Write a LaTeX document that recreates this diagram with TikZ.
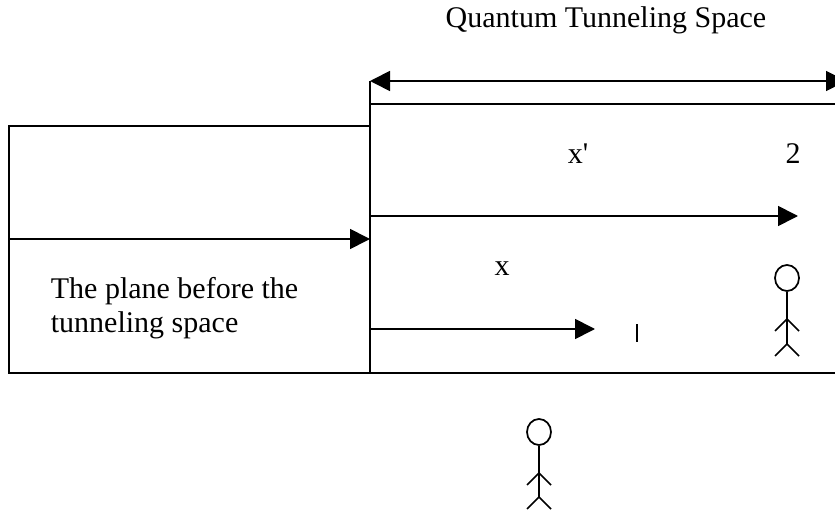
\documentclass[tikz,border=0pt]{standalone}
\usepackage{fontspec}
\setmainfont{Liberation Serif}
\usetikzlibrary{arrows.meta, shapes.geometric}
\begin{document}
\begin{tikzpicture}[
  x=0.75pt, y=-0.75pt,
  line width=1.3pt,
  label/.style={font=\fontsize{22.5}{25.5}\selectfont, inner sep=0pt, anchor=base},
  arrow/.style={-{Triangle[length=15pt, width=15pt]}},
  biarrow/.style={{Triangle[length=15pt, width=15pt]}-{Triangle[length=15pt, width=15pt]}},
  head/.style={draw, ellipse, minimum width=18pt, minimum height=19.5pt, inner sep=0pt}
]
\useasboundingbox (0,0) rectangle (835,513);
\clip (0,0) rectangle (835,513);
% the two planes
\coordinate (planeNW) at (9,126);
\coordinate (planeNE) at (370,126);
\coordinate (planeSW) at (9,373);
\coordinate (planeSE) at (370,373);
\coordinate (wallTop) at (370,81);
\coordinate (roofL) at (370,104);
\coordinate (roofR) at (835,104);
\coordinate (floorR) at (835,373);
\draw (planeSE) -- (planeSW) -- (planeNW) -- (planeNE);
\draw (wallTop) -- (planeSE) -- (floorR);
\draw (roofL) -- (roofR);
% arrows
\coordinate (spanR) at (846,81);
\coordinate (beamStart) at (9,239);
\coordinate (beamEnd) at (370,239);
\coordinate (upperStart) at (370,216);
\coordinate (upperEnd) at (798,216);
\coordinate (lowerStart) at (370,329);
\coordinate (lowerEnd) at (595,329);
\draw[biarrow] (wallTop) -- (spanR);
\draw[arrow] (beamStart) -- (beamEnd);
\draw[arrow] (upperStart) -- (upperEnd);
\draw[arrow] (lowerStart) -- (lowerEnd);
% tick
\coordinate (tickTop) at (637,324);
\coordinate (tickBot) at (637,342);
\draw[line width=0.9pt] (tickTop) -- (tickBot);
% labels
\node[label] (title) at (606,28) {Quantum Tunneling Space};
\node[label] (xprime) at (578,164) {x\textquotesingle};
\node[label] (two) at (793,164) {2};
\node[label] (xlabel) at (502,276) {x};
\node[label, anchor=base west] (planeTop) at (50,298) {The plane before the};
\node[label, anchor=base west] (planeBot) at (50,332) {tunneling space};
% person on the far side
\node[head] (headA) at (787,278) {};
\coordinate (hipA) at (787,344);
\coordinate (neckA) at (787,319);
\coordinate (handAl) at (775,331);
\coordinate (handAr) at (799,331);
\coordinate (footAl) at (775,356);
\coordinate (footAr) at (799,356);
\draw (headA) -- (hipA);
\draw (handAl) -- (neckA) -- (handAr);
\draw (footAl) -- (hipA) -- (footAr);
% person below
\node[head] (headB) at (539,432) {};
\coordinate (hipB) at (539,497);
\coordinate (neckB) at (539,473);
\coordinate (handBl) at (527,485);
\coordinate (handBr) at (551,485);
\coordinate (footBl) at (527,509);
\coordinate (footBr) at (551,509);
\draw (headB) -- (hipB);
\draw (handBl) -- (neckB) -- (handBr);
\draw (footBl) -- (hipB) -- (footBr);
\end{tikzpicture}
\end{document}
